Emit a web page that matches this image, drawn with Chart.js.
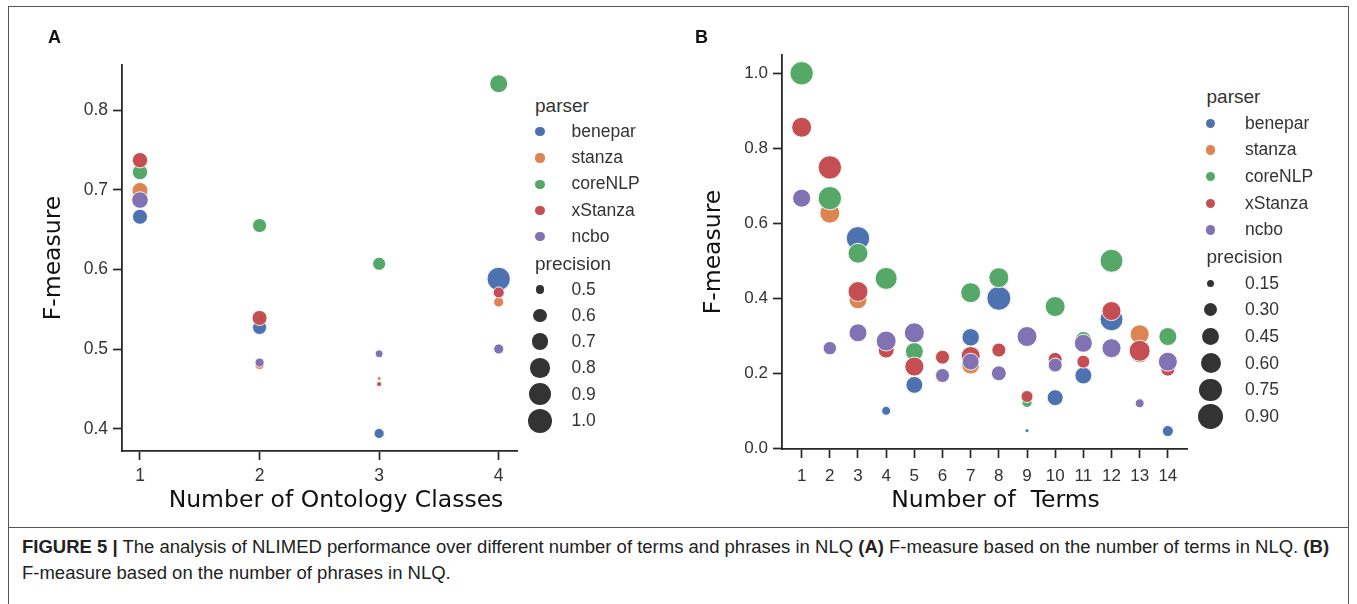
<!DOCTYPE html>
<html><head><meta charset="utf-8">
<script src="https://cdn.jsdelivr.net/npm/chart.js@4.4.0/dist/chart.umd.min.js"></script>
<style>
html,body{margin:0;padding:0;background:#fff;}
body{width:1357px;height:604px;position:relative;overflow:hidden;font-family:"Liberation Sans",Arial,sans-serif;}
.t{position:absolute;white-space:pre;}
.dot{position:absolute;border-radius:50%;}
#frame{position:absolute;left:8px;top:6px;width:1341px;height:640px;border:1px solid #555;box-sizing:border-box;}
#sep{position:absolute;left:8px;top:527px;width:1341px;height:1px;background:#555;}
canvas{position:absolute;}
</style></head><body>
<div id="frame"></div><div id="sep"></div>
<canvas id="chartA" width="520" height="480" style="left:10px;top:40px;width:520px;height:480px"></canvas>
<canvas id="chartB" width="530" height="490" style="left:670px;top:30px;width:530px;height:490px"></canvas>
<div id="overlay"></div>
<script>
// ---------- shared ----------
const parsers = ['benepar', 'stanza', 'coreNLP', 'xStanza', 'ncbo'];
const parserColors = ['#4c72b0', '#dd8452', '#55a868', '#c44e52', '#8172b3'];

// ---------- Panel A: Number of Ontology Classes ----------
const classCountsA = [1, 2, 3, 4];
const fA_benepar = [0.666, 0.527, 0.394, 0.588];
const pA_benepar = [0.67, 0.64, 0.54, 1.00];
const fA_stanza  = [0.699, 0.480, 0.463, 0.559];
const pA_stanza  = [0.70, 0.52, 0.45, 0.54];
const fA_coreNLP = [0.722, 0.655, 0.607, 0.833];
const pA_coreNLP = [0.68, 0.64, 0.61, 0.77];
const fA_xStanza = [0.737, 0.539, 0.456, 0.571];
const pA_xStanza = [0.68, 0.67, 0.46, 0.56];
const fA_ncbo    = [0.687, 0.483, 0.494, 0.500];
const pA_ncbo    = [0.72, 0.52, 0.50, 0.54];
const xTicksA = [1, 2, 3, 4];
const xTickLabelsA = ['1', '2', '3', '4'];
const yTicksA = [0.4, 0.5, 0.6, 0.7, 0.8];
const yTickLabelsA = ['0.4', '0.5', '0.6', '0.7', '0.8'];
const sizeLegendA = [0.5, 0.6, 0.7, 0.8, 0.9, 1.0];
const sizeLegendLabelsA = ['0.5', '0.6', '0.7', '0.8', '0.9', '1.0'];

// ---------- Panel B: Number of Terms ----------
const termCountsB = [1, 2, 3, 4, 5, 6, 7, 8, 9, 10, 11, 12, 13, 14];
const fB_benepar = [null, null, 0.560, 0.100, 0.169, null, 0.296, 0.400, 0.047, 0.135, 0.194, 0.344, null, 0.046];
const pB_benepar = [null, null, 0.86, 0.20, 0.49, null, 0.52, 0.90, 0.11, 0.45, 0.49, 0.83, null, 0.26];
const fB_stanza  = [null, 0.627, 0.396, null, null, null, 0.222, null, null, null, null, null, 0.304, null];
const pB_stanza  = [null, 0.65, 0.545, null, null, null, 0.545, null, null, null, null, null, 0.60, null];
const fB_coreNLP = [1.000, 0.667, 0.520, 0.453, 0.258, null, 0.415, 0.455, 0.122, 0.378, 0.290, 0.500, 0.252, 0.298];
const pB_coreNLP = [0.86, 0.86, 0.65, 0.77, 0.545, null, 0.65, 0.65, 0.23, 0.65, 0.45, 0.83, 0.55, 0.545];
const fB_xStanza = [0.856, 0.749, 0.418, 0.262, 0.218, 0.243, 0.246, 0.262, 0.138, 0.237, 0.231, 0.366, 0.260, 0.211];
const pB_xStanza = [0.65, 0.86, 0.65, 0.45, 0.60, 0.365, 0.60, 0.365, 0.29, 0.365, 0.325, 0.60, 0.71, 0.365];
const fB_ncbo    = [0.667, 0.267, 0.308, 0.286, 0.308, 0.194, 0.231, 0.200, 0.298, 0.222, 0.280, 0.267, 0.120, 0.231];
const pB_ncbo    = [0.545, 0.34, 0.545, 0.65, 0.65, 0.365, 0.49, 0.40, 0.65, 0.365, 0.545, 0.60, 0.20, 0.60];
const xTicksB = [1, 2, 3, 4, 5, 6, 7, 8, 9, 10, 11, 12, 13, 14];
const xTickLabelsB = ['1', '2', '3', '4', '5', '6', '7', '8', '9', '10', '11', '12', '13', '14'];
const yTicksB = [0.0, 0.2, 0.4, 0.6, 0.8, 1.0];
const yTickLabelsB = ['0.0', '0.2', '0.4', '0.6', '0.8', '1.0'];
const sizeLegendB = [0.15, 0.30, 0.45, 0.60, 0.75, 0.90];
const sizeLegendLabelsB = ['0.15', '0.30', '0.45', '0.60', '0.75', '0.90'];

// marker size (radius) from precision: area linear in precision
const radA = p => Math.sqrt(Math.max(1, 16 + 240 * (p - 0.5)));
const radB = p => Math.sqrt(Math.max(1, 11 + 177 * (p - 0.15)));

const AXIS = '#262626';
const TICKTXT = '#333333';

function makeScatter(id, spec) {
  const datasets = parsers.map((name, i) => ({
    label: name,
    data: spec.x.map((xv, j) => ({ x: xv, y: spec.f[i][j], p: spec.p[i][j] })).filter(d => d.y !== null),
    pointBackgroundColor: parserColors[i],
    backgroundColor: parserColors[i],
    pointBorderColor: '#ffffff',
    pointBorderWidth: 0.9,
    pointRadius: ctx => spec.rad(ctx.raw.p),
    pointHoverRadius: ctx => spec.rad(ctx.raw.p),
    order: parsers.length - i,
    clip: false
  }));
  const tickFont = { family: '"Liberation Sans", Arial, sans-serif', size: spec.tickSize };
  return new Chart(document.getElementById(id), {
    type: 'scatter',
    data: { datasets },
    options: {
      responsive: false, animation: false, events: [], devicePixelRatio: 1,
      layout: { padding: spec.padding },
      plugins: { legend: { display: false }, tooltip: { enabled: false } },
      scales: {
        x: {
          type: 'linear', min: spec.xMin, max: spec.xMax,
          afterBuildTicks: ax => { ax.ticks = spec.xTicks.map(v => ({ value: v })); },
          afterFit: s => { s.height = spec.xH; },
          ticks: { callback: (v, i) => spec.xLabels[i], font: tickFont, color: TICKTXT, padding: spec.xTickPad, autoSkip: false, maxRotation: 0 },
          grid: { display: true, drawOnChartArea: false, drawTicks: true, tickLength: 9, tickWidth: 1.7, tickColor: AXIS },
          border: { display: true, color: AXIS, width: 1.8 }
        },
        y: {
          type: 'linear', min: spec.yMin, max: spec.yMax,
          afterBuildTicks: ax => { ax.ticks = spec.yTicks.map(v => ({ value: v })); },
          afterFit: s => { s.width = spec.yW; },
          ticks: { callback: (v, i) => spec.yLabels[i], font: tickFont, color: TICKTXT, padding: 5, autoSkip: false },
          grid: { display: true, drawOnChartArea: false, drawTicks: true, tickLength: 9, tickWidth: 1.7, tickColor: AXIS },
          border: { display: true, color: AXIS, width: 1.8 },
          title: { display: true, text: 'F-measure', color: '#111', font: { family: '"DejaVu Sans", sans-serif', size: 23.5 }, padding: { top: spec.yTitlePad, bottom: 0 } }
        }
      }
    }
  });
}

makeScatter('chartA', {
  x: classCountsA,
  f: [fA_benepar, fA_stanza, fA_coreNLP, fA_xStanza, fA_ncbo],
  p: [pA_benepar, pA_stanza, pA_coreNLP, pA_xStanza, pA_ncbo],
  rad: radA, tickSize: 17.5, xTickPad: 6,
  xMin: 0.8495, xMax: 4.153, yMin: 0.372, yMax: 0.8565,
  xTicks: xTicksA, xLabels: xTickLabelsA, yTicks: yTicksA, yLabels: yTickLabelsA,
  padding: { left: 0, right: 13, top: 25, bottom: 0 }, yW: 112, xH: 69, yTitlePad: 30
});

makeScatter('chartB', {
  x: termCountsB,
  f: [fB_benepar, fB_stanza, fB_coreNLP, fB_xStanza, fB_ncbo],
  p: [pB_benepar, pB_stanza, pB_coreNLP, pB_xStanza, pB_ncbo],
  rad: radB, tickSize: 17, xTickPad: 8,
  xMin: 0.302, xMax: 14.684, yMin: -0.0019, yMax: 1.0488,
  xTicks: xTicksB, xLabels: xTickLabelsB, yTicks: yTicksB, yLabels: yTickLabelsB,
  padding: { left: 0, right: 12, top: 25, bottom: 0 }, yW: 112, xH: 71, yTitlePad: 29.5
});

// ---------- HTML text & legends ----------
const overlay = document.getElementById('overlay');
function addText(txt, x, yc, size, opts = {}) {
  const d = document.createElement('div');
  d.className = 't';
  d.textContent = txt;
  d.style.fontSize = size + 'px';
  d.style.lineHeight = size + 'px';
  d.style.top = (yc - size / 2) + 'px';
  d.style.color = opts.color || '#333';
  if (opts.family) d.style.fontFamily = opts.family;
  if (opts.weight) d.style.fontWeight = opts.weight;
  d.style.left = x + 'px';
  if (opts.center) d.style.transform = 'translateX(-50%)';
  if (opts.scaleX) { d.style.transformOrigin = '0 50%'; d.style.transform = 'scaleX(' + opts.scaleX + ')'; }
  overlay.appendChild(d);
  return d;
}
function addDot(cx, cy, r, color) {
  const d = document.createElement('div');
  d.className = 'dot';
  d.style.left = (cx - r) + 'px'; d.style.top = (cy - r) + 'px';
  d.style.width = (2 * r) + 'px'; d.style.height = (2 * r) + 'px';
  d.style.background = color;
  overlay.appendChild(d);
}
function buildLegend(L) {
  let row = 0;
  const y = () => L.y0 + L.step * row;
  addText('parser', L.titleX, y(), L.titleSize); row++;
  parsers.forEach((name, i) => {
    addDot(L.markerX, y(), 4.6, parserColors[i]);
    addText(name, L.labelX, y(), L.labelSize);
    row++;
  });
  addText('precision', L.titleX, y(), L.titleSize); row++;
  L.sizes.forEach((p, i) => {
    addDot(L.markerX, y(), L.rad(p) + 0.4, '#333333');
    addText(L.sizeLabels[i], L.labelX, y(), L.labelSize);
    row++;
  });
}
buildLegend({ y0: 105.4, step: 26.27, titleX: 535, markerX: 540, labelX: 571.5, titleSize: 19, labelSize: 17.5, sizes: sizeLegendA, sizeLabels: sizeLegendLabelsA, rad: radA });
buildLegend({ y0: 96.6, step: 26.67, titleX: 1206.5, markerX: 1210.7, labelX: 1245, titleSize: 19, labelSize: 17.5, sizes: sizeLegendB, sizeLabels: sizeLegendLabelsB, rad: radB });

// axis titles (x)
const DJ = '"DejaVu Sans", sans-serif';
addText('Number of Ontology Classes', 336, 500, 23.5, { family: DJ, center: true, color: '#111' });
addText('Number of  Terms', 995.5, 500, 23.5, { family: DJ, center: true, color: '#111' });

// panel letters
addText('A', 48, 36.5, 18, { weight: 'bold', color: '#111' });
addText('B', 695, 36.5, 18, { weight: 'bold', color: '#111' });

// caption
const cap1 = addText('', 22, 548, 17.5, { color: '#222', scaleX: 1.057 });
cap1.innerHTML = '<b>FIGURE 5 |</b> The analysis of NLIMED performance over different number of terms and phrases in NLQ <b>(A)</b> F-measure based on the number of terms in NLQ. <b>(B)</b>';
addText('F-measure based on the number of phrases in NLQ.', 22, 574, 17.5, { color: '#222', scaleX: 1.057 });
</script>
</body></html>
